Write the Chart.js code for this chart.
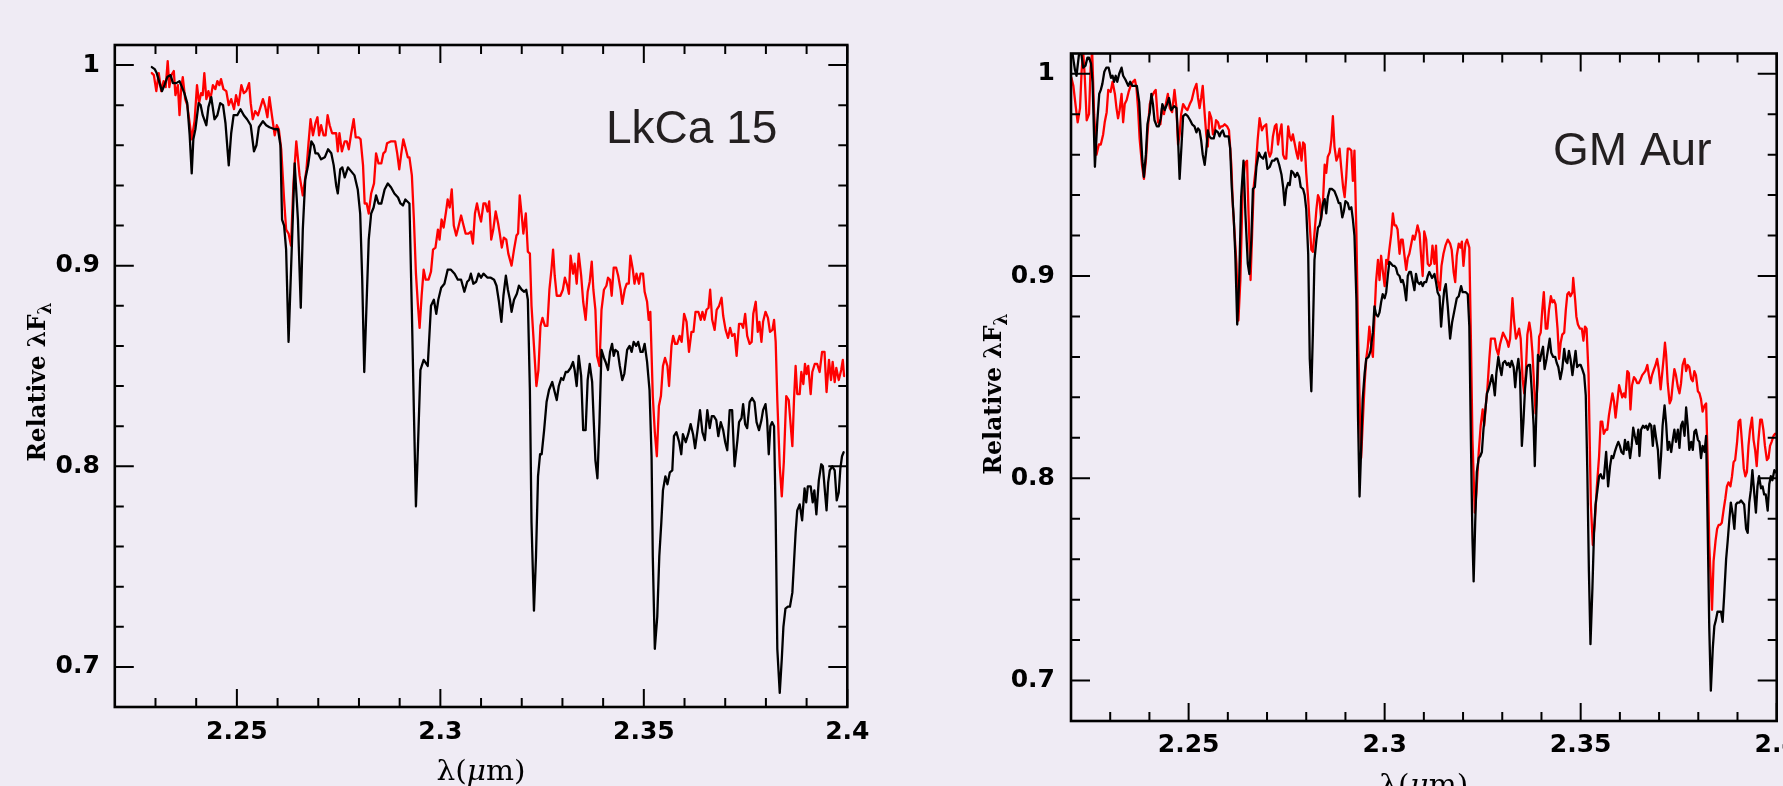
<!DOCTYPE html>
<html>
<head>
<meta charset="utf-8">
<script src="https://cdn.jsdelivr.net/npm/chart.js@4.4.1/dist/chart.umd.min.js"></script>
<style>
html, body { margin: 0; padding: 0; background: #EFEBF4; }
body { width: 1783px; height: 786px; position: relative; overflow: hidden; }
canvas { position: absolute; top: 0; }
#lkca { left: 0; }
#gmaur { left: 960px; }
</style>
</head>
<body>
<canvas id="lkca" width="960" height="786"></canvas>
<canvas id="gmaur" width="823" height="786"></canvas>
<script>
// ---------------- axes ----------------
const xRange = [2.22, 2.40];
const yRange = [0.68, 1.01];
const xTickValues = [2.25, 2.3, 2.35, 2.4];
const xTickLabels = ['2.25', '2.3', '2.35', '2.4'];
const yTickValues = [0.7, 0.8, 0.9, 1.0];
const yTickLabels = ['0.7', '0.8', '0.9', '1'];
const xMinorTicks = [2.23, 2.24, 2.26, 2.27, 2.28, 2.29, 2.31, 2.32, 2.33, 2.34, 2.36, 2.37, 2.38, 2.39];
const yMinorTicks = [0.72, 0.74, 0.76, 0.78, 0.82, 0.84, 0.86, 0.88, 0.92, 0.94, 0.96, 0.98];

// ---------------- LkCa 15 : black spectrum ----------------
const lkcaBlackWl = [
2.2291,2.2298,2.2303,2.2310,2.2316,2.2322,2.2329,2.2337,2.2343,2.2351,2.2359,2.2365,2.2371,2.2378,2.2384,2.2389,2.2393,2.2398,2.2406,2.2411,
2.2416,2.2425,2.2430,2.2437,2.2445,2.2452,2.2459,2.2466,2.2472,2.2480,2.2486,2.2492,2.2501,2.2509,2.2517,2.2525,2.2534,2.2542,2.2548,2.2554,
2.2564,2.2572,2.2580,2.2593,2.2601,2.2607,2.2611,2.2616,2.2621,2.2627,
2.2642,2.2650,2.2657,2.2662,2.2668,2.2675,2.2683,2.2689,2.2693,2.2699,2.2707,2.2716,2.2724,2.2732,2.2738,2.2744,2.2748,2.2754,2.2759,2.2765,
2.2773,2.2781,2.2789,2.2797,2.2803,2.2808,2.2813,2.2818,2.2824,2.2830,2.2836,2.2842,2.2848,2.2855,2.2863,2.2871,2.2879,2.2887,2.2896,2.2902,
2.2908,2.2914,2.2924,2.2930,2.2935,2.2940,2.2945,2.2951,2.2959,2.2969,2.2977,2.2984,2.2990,2.2995,2.3002,2.3010,2.3018,2.3026,2.3035,2.3043,
2.3051,2.3059,2.3066,2.3071,2.3075,2.3081,2.3088,2.3094,2.3100,2.3106,
2.3116,2.3124,2.3132,2.3138,2.3144,2.3150,2.3155,2.3161,2.3166,2.3171,2.3175,2.3181,2.3188,2.3193,2.3200,2.3206,2.3211,2.3215,2.3220,2.3224,
2.3230,2.3235,2.3240,2.3245,2.3249,2.3255,2.3261,2.3267,2.3275,2.3281,2.3286,2.3291,2.3297,2.3302,2.3308,2.3313,2.3320,2.3326,2.3330,2.3335,
2.3340,2.3346,2.3351,2.3357,2.3362,2.3367,2.3373,2.3377,2.3381,2.3386,2.3391,2.3396,2.3402,2.3406,2.3412,2.3417,2.3422,2.3426,2.3430,2.3436,
2.3441,2.3447,2.3452,2.3459,2.3465,2.3470,2.3475,2.3481,2.3486,2.3492,2.3497,2.3502,2.3508,2.3514,2.3519,2.3522,2.3527,2.3533,2.3538,2.3543,
2.3547,2.3553,
2.3558,2.3564,2.3570,2.3574,2.3580,2.3587,2.3592,2.3596,2.3603,2.3609,2.3615,2.3621,2.3626,2.3632,2.3638,2.3644,2.3650,2.3656,2.3662,2.3667,
2.3672,2.3678,2.3683,2.3689,2.3695,2.3700,2.3705,2.3711,2.3717,2.3723,2.3730,2.3734,2.3740,2.3744,2.3749,2.3754,2.3760,2.3766,2.3772,2.3777,
2.3783,2.3789,2.3793,2.3799,2.3803,2.3807,2.3811,2.3815,2.3820,2.3824,2.3828,2.3834,2.3839,2.3843,2.3848,2.3854,2.3859,2.3865,2.3869,2.3873,
2.3877,2.3883,2.3889,2.3895,2.3899,2.3903,2.3910,2.3915,2.3919,2.3924,2.3930,2.3936,2.3940,2.3944,2.3949,2.3953,2.3957,2.3963,2.3969,2.3974,
2.3979,2.3983,2.3987,2.3991];
const lkcaBlackFlux = [
0.999,0.998,0.996,0.991,0.987,0.990,0.994,0.995,0.991,0.991,0.992,0.989,0.986,0.981,0.965,0.946,0.963,0.968,0.981,0.980,
0.975,0.970,0.979,0.984,0.973,0.975,0.981,0.980,0.971,0.950,0.966,0.975,0.975,0.978,0.975,0.973,0.970,0.957,0.960,0.969,
0.972,0.970,0.969,0.968,0.968,0.960,0.923,0.920,0.908,0.862,
0.951,0.923,0.879,0.918,0.943,0.950,0.962,0.960,0.956,0.956,0.953,0.954,0.958,0.956,0.950,0.940,0.936,0.948,0.949,0.944,
0.949,0.947,0.945,0.938,0.926,0.893,0.847,0.877,0.913,0.926,0.929,0.935,0.931,0.931,0.938,0.941,0.939,0.936,0.934,0.931,
0.930,0.933,0.931,0.877,0.827,0.780,0.810,0.848,0.853,0.850,0.880,0.883,0.876,0.883,0.889,0.891,0.898,0.898,0.896,0.893,
0.893,0.887,0.892,0.893,0.896,0.891,0.892,0.896,0.894,0.896,
0.894,0.894,0.893,0.890,0.882,0.872,0.885,0.895,0.888,0.883,0.877,0.883,0.886,0.890,0.888,0.887,0.888,0.883,0.838,0.772,
0.728,0.755,0.795,0.806,0.806,0.818,0.832,0.838,0.842,0.837,0.833,0.840,0.844,0.843,0.847,0.847,0.849,0.852,0.848,0.840,
0.855,0.845,0.818,0.818,0.843,0.851,0.842,0.822,0.803,0.794,0.822,0.858,0.854,0.852,0.848,0.857,0.861,0.855,0.858,0.857,
0.850,0.843,0.846,0.858,0.860,0.857,0.862,0.860,0.862,0.857,0.857,0.861,0.852,0.838,0.805,0.755,0.709,0.725,0.755,0.772,
0.788,0.795,
0.791,0.797,0.798,0.815,0.817,0.812,0.806,0.816,0.812,0.816,0.821,0.816,0.809,0.818,0.828,0.817,0.813,0.828,0.819,0.825,
0.825,0.823,0.815,0.822,0.818,0.812,0.808,0.828,0.828,0.800,0.813,0.822,0.824,0.831,0.821,0.819,0.832,0.834,0.832,0.822,
0.818,0.823,0.828,0.831,0.823,0.806,0.820,0.822,0.820,0.775,0.709,0.687,0.704,0.720,0.729,0.730,0.730,0.737,0.752,0.767,
0.778,0.781,0.773,0.789,0.782,0.790,0.790,0.782,0.788,0.776,0.793,0.801,0.800,0.790,0.778,0.792,0.798,0.800,0.798,0.783,
0.787,0.799,0.805,0.807];

// ---------------- LkCa 15 : red spectrum ----------------
const lkcaRedWl = [
2.2291,2.2296,2.2302,2.2308,2.2314,2.2320,2.2325,2.2330,2.2334,2.2339,2.2345,2.2349,2.2355,2.2359,2.2363,2.2367,2.2373,2.2378,2.2384,2.2389,
2.2396,2.2402,2.2407,2.2412,2.2416,2.2420,2.2425,2.2430,2.2435,2.2441,2.2447,2.2452,2.2457,2.2461,2.2467,2.2474,2.2480,2.2486,2.2493,2.2498,
2.2504,2.2511,2.2517,2.2523,2.2530,2.2534,2.2539,2.2545,2.2552,2.2558,2.2564,2.2570,2.2575,2.2580,2.2586,2.2593,2.2598,2.2603,2.2609,2.2616,
2.2621,2.2627,2.2633,2.2639,2.2646,
2.2654,2.2662,2.2671,2.2676,2.2681,2.2687,2.2693,2.2698,2.2702,2.2707,2.2713,2.2718,2.2723,2.2728,2.2734,2.2744,2.2748,2.2752,2.2758,2.2765,
2.2770,2.2775,2.2781,2.2787,2.2792,2.2799,2.2804,2.2810,2.2814,2.2819,2.2824,2.2830,2.2837,2.2842,2.2848,2.2855,2.2860,2.2865,2.2869,2.2879,
2.2889,2.2894,2.2899,2.2904,2.2909,2.2914,2.2920,2.2924,2.2930,2.2935,2.2940,2.2945,2.2949,2.2954,2.2959,2.2964,2.2971,2.2977,2.2982,2.2988,
2.2994,2.2998,2.3003,2.3008,2.3014,2.3018,2.3023,2.3028,2.3033,2.3039,2.3044,2.3051,2.3057,2.3062,2.3069,2.3075,2.3080,2.3085,2.3090,2.3096,
2.3100,2.3106,
2.3111,2.3116,2.3120,2.3125,2.3130,2.3136,2.3142,2.3146,2.3151,2.3156,2.3162,2.3167,2.3175,2.3181,2.3187,2.3191,2.3195,2.3200,2.3204,2.3210,
2.3215,2.3220,2.3224,2.3230,2.3236,2.3241,2.3246,2.3251,2.3257,2.3263,2.3268,2.3273,2.3277,2.3281,2.3286,2.3295,2.3301,2.3306,2.3312,2.3316,
2.3320,2.3326,2.3330,2.3335,2.3340,2.3346,2.3351,2.3357,2.3362,2.3367,2.3372,2.3376,2.3381,2.3385,2.3391,2.3396,2.3402,2.3408,2.3412,2.3417,
2.3421,2.3426,2.3432,2.3437,2.3443,2.3447,2.3453,2.3458,2.3463,2.3467,2.3473,2.3477,2.3482,2.3488,2.3492,2.3498,2.3502,2.3508,2.3512,2.3516,
2.3522,2.3527,2.3532,2.3537,2.3542,2.3547,2.3552,
2.3558,2.3562,2.3568,2.3572,2.3577,2.3582,2.3588,2.3593,2.3599,2.3605,2.3611,2.3617,2.3622,2.3627,2.3634,2.3640,2.3644,2.3649,2.3654,2.3659,
2.3663,2.3668,2.3674,2.3679,2.3685,2.3691,2.3695,2.3701,2.3707,2.3712,2.3717,2.3723,2.3728,2.3734,2.3740,2.3744,2.3749,2.3754,2.3760,2.3765,
2.3769,2.3775,2.3780,2.3784,2.3789,2.3793,2.3799,2.3805,2.3810,2.3816,2.3820,2.3824,2.3828,2.3834,2.3839,2.3844,2.3850,2.3856,2.3865,2.3869,
2.3873,2.3877,2.3883,2.3887,2.3892,2.3896,2.3900,2.3904,2.3910,2.3914,2.3920,2.3926,2.3932,2.3938,2.3944,2.3949,2.3955,2.3960,2.3964,2.3969,
2.3973,2.3979,2.3985,2.3989,2.3992];
const lkcaRedFlux = [
0.996,0.995,0.987,0.996,0.987,0.992,0.989,1.002,0.989,0.995,0.997,0.985,0.990,0.975,0.988,0.994,0.983,0.980,0.971,0.963,
0.972,0.990,0.981,0.986,0.985,0.996,0.983,0.987,0.983,0.990,0.988,0.992,0.990,0.993,0.988,0.987,0.980,0.983,0.978,0.985,
0.980,0.990,0.986,0.987,0.991,0.981,0.973,0.977,0.975,0.979,0.983,0.979,0.974,0.984,0.975,0.965,0.970,0.968,0.958,0.933,
0.918,0.916,0.910,0.941,0.962,
0.945,0.935,0.948,0.961,0.973,0.965,0.971,0.974,0.965,0.970,0.965,0.965,0.975,0.970,0.966,0.966,0.957,0.966,0.957,0.962,
0.962,0.958,0.966,0.973,0.964,0.964,0.963,0.950,0.931,0.931,0.926,0.936,0.941,0.956,0.951,0.951,0.956,0.957,0.961,0.962,
0.962,0.956,0.948,0.956,0.963,0.959,0.954,0.954,0.945,0.923,0.896,0.880,0.869,0.885,0.898,0.893,0.893,0.897,0.908,0.909,
0.918,0.913,0.923,0.919,0.927,0.933,0.929,0.938,0.920,0.915,0.919,0.925,0.920,0.916,0.916,0.917,0.911,0.926,0.931,0.925,
0.922,0.931,
0.931,0.927,0.932,0.913,0.918,0.927,0.921,0.916,0.909,0.914,0.913,0.906,0.900,0.908,0.915,0.916,0.935,0.925,0.916,0.926,
0.907,0.906,0.880,0.860,0.840,0.848,0.870,0.874,0.870,0.870,0.888,0.898,0.908,0.895,0.885,0.885,0.888,0.894,0.890,0.886,
0.905,0.896,0.901,0.891,0.906,0.895,0.882,0.873,0.887,0.892,0.902,0.888,0.878,0.855,0.850,0.878,0.888,0.890,0.894,0.893,
0.885,0.899,0.899,0.895,0.888,0.881,0.888,0.891,0.891,0.905,0.898,0.891,0.896,0.891,0.896,0.896,0.887,0.882,0.873,0.877,
0.835,0.817,0.805,0.830,0.835,0.850,0.854,
0.850,0.840,0.860,0.865,0.861,0.861,0.865,0.862,0.876,0.872,0.857,0.867,0.867,0.877,0.877,0.873,0.877,0.873,0.878,0.879,
0.888,0.873,0.868,0.878,0.880,0.884,0.875,0.868,0.864,0.869,0.865,0.866,0.855,0.871,0.871,0.869,0.876,0.865,0.861,0.862,
0.876,0.882,0.867,0.872,0.862,0.872,0.877,0.874,0.867,0.868,0.873,0.862,0.833,0.800,0.785,0.802,0.835,0.833,0.810,0.833,
0.850,0.836,0.836,0.847,0.841,0.851,0.846,0.850,0.836,0.847,0.851,0.851,0.847,0.857,0.857,0.837,0.853,0.843,0.852,0.842,
0.849,0.843,0.848,0.853,0.845];

// ---------------- GM Aur : black spectrum ----------------
const gmBlackWl = [
2.2203,2.2210,2.2214,2.2220,2.2225,2.2231,2.2237,2.2242,2.2246,2.2251,2.2255,2.2261,2.2267,2.2272,2.2276,2.2280,2.2285,2.2290,2.2296,2.2302,
2.2306,2.2310,2.2314,2.2318,2.2323,2.2329,2.2333,2.2339,2.2346,2.2351,2.2356,2.2363,2.2368,2.2374,2.2378,2.2382,2.2386,2.2391,2.2395,2.2401,
2.2405,2.2409,2.2413,2.2419,2.2424,2.2429,2.2433,2.2439,2.2445,2.2450,2.2456,2.2463,2.2469,2.2473,2.2477,2.2482,2.2486,2.2492,2.2498,2.2504,
2.2509,2.2515,2.2520,2.2524,2.2528,2.2532,2.2536,2.2541,2.2545,2.2549,2.2553,2.2558,2.2564,2.2569,2.2575,2.2579,2.2583,2.2587,2.2592,2.2597,
2.2602,2.2606,2.2610,2.2615,2.2619,2.2624,2.2629,2.2634,2.2640,2.2645,2.2651,2.2655,
2.2660,2.2664,2.2669,2.2673,2.2679,2.2684,2.2690,2.2696,2.2701,2.2707,2.2713,2.2718,2.2722,2.2726,2.2731,2.2737,2.2741,2.2745,2.2749,2.2754,
2.2758,2.2762,2.2767,2.2772,2.2777,2.2782,2.2786,2.2792,2.2796,2.2800,2.2805,2.2809,2.2813,2.2817,2.2821,2.2826,2.2830,2.2834,2.2838,2.2843,
2.2847,2.2851,2.2855,2.2860,2.2866,2.2872,2.2878,2.2883,2.2887,2.2892,2.2896,2.2900,2.2906,2.2910,2.2915,2.2919,2.2923,2.2928,2.2932,2.2936,
2.2940,2.2944,2.2949,2.2953,2.2959,2.2964,2.2970,2.2974,2.2978,2.2983,2.2987,2.2991,2.2995,2.3000,2.3004,2.3008,2.3012,2.3017,2.3021,2.3025,
2.3029,2.3033,2.3038,2.3042,2.3046,2.3050,2.3055,2.3059,2.3063,2.3067,2.3072,2.3076,2.3080,2.3084,2.3089,2.3093,2.3097,2.3101,2.3106,2.3110,
2.3114,
2.3121,2.3127,2.3131,2.3135,2.3140,2.3144,2.3148,2.3152,2.3156,2.3161,2.3167,2.3172,2.3178,2.3184,2.3189,2.3195,2.3199,2.3203,2.3207,2.3212,
2.3216,2.3220,2.3224,2.3227,2.3231,2.3235,2.3240,2.3244,2.3248,2.3252,2.3257,2.3261,2.3265,2.3269,2.3274,2.3278,2.3281,2.3285,2.3290,2.3294,
2.3298,2.3302,2.3307,2.3312,2.3316,2.3320,2.3324,2.3329,2.3333,2.3336,2.3341,2.3345,2.3350,2.3354,2.3358,2.3363,2.3367,2.3371,2.3375,2.3380,
2.3383,2.3387,2.3391,2.3396,2.3400,2.3404,2.3408,2.3413,2.3417,2.3421,2.3425,2.3430,2.3435,2.3439,2.3443,2.3448,2.3453,2.3458,2.3462,2.3466,
2.3470,2.3474,2.3479,2.3483,2.3487,2.3491,2.3496,2.3500,2.3504,2.3509,2.3513,2.3517,2.3521,2.3525,2.3530,2.3534,2.3538,2.3542,2.3547,2.3551,
2.3555,
2.3559,2.3565,2.3570,2.3575,2.3579,2.3583,2.3587,2.3592,2.3596,2.3600,2.3604,2.3609,2.3613,2.3617,2.3621,2.3626,2.3630,2.3634,2.3638,2.3643,
2.3647,2.3650,2.3654,2.3659,2.3663,2.3667,2.3671,2.3676,2.3680,2.3684,2.3688,2.3693,2.3697,2.3701,2.3705,2.3709,2.3714,2.3718,2.3722,2.3726,
2.3731,2.3735,2.3739,2.3743,2.3748,2.3752,2.3756,2.3760,2.3765,2.3769,2.3773,2.3777,2.3782,2.3786,2.3790,2.3794,2.3799,2.3803,2.3807,2.3811,
2.3816,2.3820,2.3824,2.3828,2.3832,2.3837,2.3841,2.3845,2.3849,2.3854,2.3858,2.3862,2.3866,2.3871,2.3875,2.3879,2.3883,2.3888,2.3892,2.3896,
2.3900,2.3905,2.3909,2.3913,2.3917,2.3922,2.3926,2.3930,2.3934,2.3938,2.3943,2.3947,2.3951,2.3955,2.3960,2.3964,2.3968,2.3972,2.3977,2.3981,
2.3985,2.3989,2.3994,2.3998];
const gmBlackFlux = [
1.011,1.002,0.999,1.009,1.012,1.003,1.004,1.008,1.008,1.005,0.996,0.954,0.976,0.990,0.992,0.995,1.001,1.003,1.003,0.998,
0.999,0.996,0.999,0.996,1.000,1.003,0.999,0.997,0.994,0.996,0.994,0.994,0.994,0.986,0.971,0.957,0.949,0.960,0.975,0.981,
0.990,0.985,0.977,0.974,0.974,0.978,0.985,0.982,0.985,0.988,0.982,0.984,0.983,0.968,0.948,0.965,0.979,0.980,0.979,0.977,
0.975,0.974,0.971,0.973,0.972,0.967,0.960,0.955,0.962,0.972,0.969,0.968,0.968,0.972,0.971,0.969,0.971,0.972,0.969,0.969,
0.969,0.963,0.944,0.929,0.911,0.876,0.898,0.939,0.957,0.930,0.906,0.901,
0.918,0.943,0.944,0.954,0.961,0.959,0.958,0.961,0.953,0.954,0.957,0.957,0.958,0.958,0.955,0.950,0.944,0.935,0.943,0.946,
0.945,0.952,0.951,0.949,0.951,0.949,0.944,0.943,0.940,0.933,0.911,0.859,0.843,0.872,0.908,0.918,0.924,0.925,0.929,0.936,
0.938,0.931,0.939,0.943,0.943,0.942,0.939,0.936,0.936,0.929,0.932,0.937,0.936,0.933,0.934,0.928,0.920,0.888,0.831,0.791,
0.814,0.839,0.852,0.859,0.860,0.863,0.872,0.885,0.881,0.880,0.882,0.887,0.891,0.889,0.892,0.900,0.907,0.906,0.905,0.905,
0.904,0.901,0.900,0.897,0.898,0.895,0.888,0.900,0.902,0.902,0.897,0.893,0.901,0.897,0.896,0.897,0.895,0.897,0.897,0.900,
0.902,
0.899,0.901,0.897,0.892,0.890,0.875,0.885,0.893,0.896,0.885,0.869,0.877,0.883,0.889,0.890,0.895,0.892,0.892,0.892,0.891,
0.875,0.819,0.770,0.749,0.778,0.803,0.810,0.811,0.813,0.824,0.834,0.842,0.844,0.847,0.851,0.846,0.841,0.852,0.860,0.855,
0.851,0.857,0.858,0.856,0.857,0.855,0.858,0.855,0.845,0.852,0.859,0.852,0.816,0.828,0.844,0.855,0.856,0.856,0.844,0.826,
0.806,0.833,0.861,0.858,0.862,0.865,0.854,0.859,0.864,0.869,0.862,0.860,0.860,0.857,0.855,0.849,0.854,0.864,0.858,0.857,
0.863,0.859,0.851,0.857,0.863,0.855,0.856,0.856,0.854,0.851,0.841,0.803,0.754,0.718,0.746,0.773,0.787,0.793,0.801,0.802,
0.800,
0.800,0.813,0.796,0.806,0.811,0.810,0.813,0.816,0.818,0.816,0.813,0.812,0.819,0.814,0.818,0.810,0.816,0.825,0.821,0.817,
0.824,0.811,0.824,0.826,0.825,0.826,0.824,0.827,0.826,0.816,0.826,0.819,0.814,0.800,0.811,0.826,0.836,0.827,0.814,0.818,
0.813,0.819,0.824,0.818,0.824,0.815,0.826,0.828,0.821,0.835,0.826,0.814,0.818,0.814,0.823,0.824,0.819,0.818,0.810,0.816,
0.813,0.821,0.775,0.726,0.695,0.716,0.727,0.730,0.734,0.734,0.734,0.729,0.742,0.760,0.769,0.779,0.788,0.782,0.775,0.787,
0.788,0.788,0.789,0.788,0.787,0.775,0.773,0.788,0.794,0.804,0.792,0.783,0.796,0.801,0.795,0.796,0.792,0.792,0.784,0.797,
0.801,0.799,0.804,0.803];

// ---------------- GM Aur : red spectrum ----------------
const gmRedWl = [
2.2201,2.2206,2.2212,2.2217,2.2223,2.2227,2.2231,2.2235,2.2240,2.2246,2.2250,2.2254,2.2259,2.2265,2.2271,2.2276,2.2282,2.2286,2.2291,2.2295,
2.2301,2.2306,2.2312,2.2316,2.2320,2.2324,2.2329,2.2333,2.2337,2.2342,2.2347,2.2352,2.2358,2.2363,2.2367,2.2371,2.2375,2.2381,2.2386,2.2391,
2.2395,2.2401,2.2407,2.2412,2.2416,2.2422,2.2428,2.2432,2.2437,2.2443,2.2447,2.2452,2.2458,2.2464,2.2469,2.2473,2.2477,2.2481,2.2486,2.2492,
2.2497,2.2503,2.2508,2.2514,2.2520,2.2524,2.2528,2.2532,2.2536,2.2541,2.2545,2.2549,2.2553,2.2558,2.2562,2.2566,2.2570,2.2575,2.2579,2.2583,
2.2587,2.2592,2.2598,2.2603,2.2609,2.2613,2.2617,2.2622,2.2627,2.2632,2.2638,2.2644,2.2649,2.2653,2.2658,
2.2662,2.2666,2.2671,2.2676,2.2681,2.2687,2.2692,2.2698,2.2703,2.2707,2.2711,2.2715,2.2720,2.2724,2.2728,2.2732,2.2737,2.2741,2.2745,2.2749,
2.2754,2.2758,2.2762,2.2766,2.2771,2.2775,2.2779,2.2783,2.2788,2.2792,2.2796,2.2800,2.2805,2.2809,2.2813,2.2817,2.2821,2.2826,2.2830,2.2834,
2.2838,2.2843,2.2847,2.2851,2.2855,2.2860,2.2864,2.2868,2.2872,2.2877,2.2881,2.2885,2.2889,2.2894,2.2898,2.2902,2.2906,2.2910,2.2915,2.2919,
2.2923,2.2928,2.2932,2.2936,2.2940,2.2945,2.2949,2.2953,2.2957,2.2961,2.2966,2.2970,2.2974,2.2978,2.2983,2.2987,2.2991,2.2995,2.3000,2.3004,
2.3008,2.3012,2.3017,2.3021,2.3025,2.3029,2.3033,2.3038,2.3042,2.3046,2.3050,2.3055,2.3059,2.3063,2.3067,2.3072,2.3076,2.3080,2.3084,2.3089,
2.3093,2.3097,2.3101,2.3106,2.3110,2.3114,
2.3118,2.3122,2.3127,2.3131,2.3135,2.3141,2.3145,2.3150,2.3155,2.3161,2.3167,2.3171,2.3176,2.3180,2.3184,2.3189,2.3193,2.3197,2.3201,2.3206,
2.3210,2.3216,2.3220,2.3224,2.3230,2.3234,2.3240,2.3245,2.3250,2.3254,2.3258,2.3262,2.3267,2.3271,2.3275,2.3281,2.3285,2.3290,2.3294,2.3298,
2.3302,2.3307,2.3312,2.3316,2.3320,2.3326,2.3330,2.3335,2.3339,2.3343,2.3347,2.3352,2.3356,2.3360,2.3364,2.3369,2.3373,2.3377,2.3381,2.3385,
2.3390,2.3394,2.3398,2.3402,2.3406,2.3411,2.3415,2.3419,2.3424,2.3428,2.3432,2.3436,2.3441,2.3445,2.3449,2.3453,2.3458,2.3462,2.3466,2.3470,
2.3474,2.3479,2.3481,2.3486,2.3489,2.3493,2.3498,2.3503,2.3507,2.3511,2.3515,2.3520,2.3523,2.3526,2.3531,2.3536,2.3541,2.3547,2.3551,2.3555,
2.3559,2.3564,2.3568,2.3572,2.3576,2.3581,2.3585,2.3589,2.3593,2.3598,2.3602,2.3606,2.3610,2.3614,2.3619,2.3623,2.3627,2.3631,2.3636,2.3640,
2.3644,2.3648,2.3653,2.3657,2.3661,2.3665,2.3670,2.3674,2.3678,2.3682,2.3687,2.3691,2.3695,2.3699,2.3704,2.3708,2.3712,2.3715,2.3718,2.3722,
2.3727,2.3731,2.3735,2.3739,2.3743,2.3748,2.3752,2.3756,2.3760,2.3765,2.3769,2.3773,2.3777,2.3782,2.3786,2.3790,2.3794,2.3799,2.3803,2.3807,
2.3811,2.3816,2.3820,2.3824,2.3828,2.3835,2.3839,2.3844,2.3848,2.3852,2.3856,2.3860,2.3865,2.3869,2.3873,2.3877,2.3882,2.3886,2.3890,2.3894,
2.3899,2.3903,2.3907,2.3911,2.3916,2.3920,2.3924,2.3928,2.3932,2.3937,2.3941,2.3945,2.3949,2.3953,2.3958,2.3962,2.3966,2.3970,2.3975,2.3979,
2.3983,2.3987,2.3992,2.3996];
const gmRedFlux = [
0.998,0.994,0.984,0.976,0.983,1.001,1.011,0.999,0.977,0.980,1.003,1.011,0.980,0.960,0.965,0.965,0.970,0.976,0.981,0.992,
0.991,0.996,0.990,0.983,0.978,0.982,0.990,0.976,0.985,0.987,0.991,0.994,0.996,0.997,0.993,0.983,0.968,0.955,0.948,0.957,
0.970,0.985,0.989,0.991,0.992,0.976,0.975,0.983,0.980,0.986,0.990,0.983,0.981,0.992,0.983,0.965,0.970,0.980,0.985,0.983,
0.982,0.985,0.987,0.992,0.995,0.988,0.983,0.988,0.994,0.980,0.970,0.964,0.981,0.978,0.970,0.971,0.977,0.976,0.973,0.974,
0.974,0.975,0.974,0.972,0.955,0.934,0.922,0.906,0.878,0.898,0.944,0.956,0.957,0.930,0.898,
0.921,0.944,0.953,0.967,0.978,0.972,0.974,0.975,0.962,0.959,0.961,0.969,0.974,0.975,0.965,0.970,0.975,0.960,0.958,0.958,
0.974,0.969,0.967,0.970,0.965,0.961,0.958,0.966,0.957,0.966,0.965,0.951,0.938,0.925,0.913,0.912,0.921,0.933,0.940,0.938,
0.928,0.938,0.955,0.951,0.959,0.961,0.967,0.979,0.964,0.957,0.959,0.963,0.954,0.944,0.939,0.949,0.963,0.963,0.962,0.947,
0.962,0.921,0.872,0.839,0.810,0.831,0.847,0.859,0.865,0.875,0.865,0.860,0.879,0.897,0.908,0.898,0.910,0.903,0.895,0.908,
0.906,0.913,0.921,0.931,0.925,0.925,0.923,0.911,0.918,0.918,0.911,0.903,0.909,0.911,0.915,0.920,0.918,0.921,0.925,0.921,
0.910,0.900,0.922,0.918,0.906,0.905,
0.906,0.915,0.906,0.915,0.898,0.893,0.905,0.911,0.915,0.918,0.916,0.913,0.902,0.897,0.910,0.916,0.914,0.917,0.905,0.916,
0.918,0.914,0.869,0.819,0.783,0.793,0.813,0.826,0.834,0.826,0.836,0.844,0.859,0.869,0.869,0.869,0.864,0.861,0.866,0.869,
0.872,0.870,0.868,0.865,0.869,0.889,0.878,0.869,0.871,0.874,0.869,0.849,0.842,0.852,0.871,0.877,0.872,0.862,0.847,0.832,
0.847,0.870,0.872,0.883,0.892,0.874,0.874,0.883,0.890,0.887,0.888,0.886,0.874,0.859,0.867,0.871,0.872,0.883,0.891,0.892,
0.890,0.892,0.899,0.888,0.880,0.876,0.874,0.874,0.868,0.875,0.874,0.852,0.819,0.787,0.767,0.778,0.795,0.811,0.828,0.828,
0.822,0.824,0.824,0.831,0.836,0.842,0.838,0.830,0.837,0.846,0.843,0.840,0.842,0.840,0.853,0.852,0.834,0.846,0.850,0.849,
0.847,0.847,0.849,0.851,0.852,0.853,0.856,0.851,0.847,0.851,0.854,0.856,0.859,0.854,0.844,0.852,0.860,0.867,0.861,0.847,
0.837,0.839,0.847,0.854,0.851,0.845,0.842,0.847,0.856,0.859,0.853,0.856,0.855,0.849,0.848,0.853,0.851,0.843,0.842,0.839,
0.833,0.836,0.837,0.808,0.767,0.735,0.759,0.769,0.775,0.777,0.777,0.778,0.785,0.790,0.796,0.798,0.796,0.801,0.808,0.809,
0.818,0.828,0.829,0.819,0.805,0.801,0.803,0.816,0.824,0.830,0.819,0.814,0.806,0.818,0.829,0.829,0.824,0.816,0.809,0.810,
0.816,0.818,0.821,0.822];

// ---------------- helpers ----------------
function toPoints(wl, flux) {
  const n = Math.min(wl.length, flux.length);
  const pts = [];
  for (let i = 0; i < n; i++) pts.push({ x: wl[i], y: flux[i] });
  return pts;
}
function labelFor(values, labels, v) {
  const i = values.findIndex(t => Math.abs(t - v) < 1e-6);
  return i >= 0 ? labels[i] : '';
}

const framePlugin = {
  id: 'spectrumFrame',
  afterDatasetsDraw(chart, args, o) {
    const ctx = chart.ctx;
    const ca = chart.chartArea;
    const xs = chart.scales.x, ys = chart.scales.y;
    ctx.save();
    ctx.strokeStyle = '#000';
    ctx.lineCap = 'butt';
    // inward ticks on all four sides
    ctx.lineWidth = 2;
    ctx.beginPath();
    const xt = (vals, len) => vals.forEach(v => {
      const p = xs.getPixelForValue(v);
      ctx.moveTo(p, ca.bottom); ctx.lineTo(p, ca.bottom - len);
      ctx.moveTo(p, ca.top); ctx.lineTo(p, ca.top + len);
    });
    const yt = (vals, len) => vals.forEach(v => {
      const p = ys.getPixelForValue(v);
      ctx.moveTo(ca.left, p); ctx.lineTo(ca.left + len, p);
      ctx.moveTo(ca.right, p); ctx.lineTo(ca.right - len, p);
    });
    xt(xMinorTicks, 9); xt(xTickValues, 18);
    yt(yMinorTicks, 9); yt(yTickValues, 19);
    ctx.stroke();
    // frame
    ctx.lineWidth = 2.6;
    ctx.strokeRect(ca.left, ca.top, ca.right - ca.left, ca.bottom - ca.top);

    // panel label
    ctx.fillStyle = '#231F20';
    ctx.font = '46px "Liberation Sans", Arial, sans-serif';
    ctx.textAlign = 'left';
    ctx.textBaseline = 'alphabetic';
    ctx.fillText(o.name, o.nameX, o.nameY);

    // x axis title: λ(μm)
    ctx.fillStyle = '#000';
    const fN = '28px "DejaVu Serif", serif', fI = 'italic 28px "DejaVu Serif", serif';
    ctx.font = fN; const w1 = ctx.measureText('λ(').width; const w3 = ctx.measureText('m)').width;
    ctx.font = fI; const w2 = ctx.measureText('μ').width;
    const cx = (ca.left + ca.right) / 2;
    const total = w1 + w2 + w3;
    ctx.save();
    ctx.translate(cx, o.xTitleY);
    ctx.scale(o.xTitleLen / total, 1);
    const x0 = -total / 2;
    ctx.font = fN; ctx.fillText('λ(', x0, 0);
    ctx.font = fI; ctx.fillText('μ', x0 + w1, 0);
    ctx.font = fN; ctx.fillText('m)', x0 + w1 + w2, 0);
    ctx.restore();

    // y axis title: Relative λFλ (subscript λ)
    ctx.save();
    ctx.translate(o.yTitleX, o.yTitleY);
    ctx.rotate(-Math.PI / 2);
    const mainF = 'bold 22px "DejaVu Serif", serif', subF = 'bold 16px "DejaVu Serif", serif';
    ctx.font = mainF; const m1 = ctx.measureText('Relative λF').width;
    ctx.font = subF; const m2 = ctx.measureText('λ').width;
    ctx.scale(o.yTitleLen / (m1 + m2), 1.12);
    const s0 = -(m1 + m2) / 2;
    ctx.font = mainF; ctx.fillText('Relative λF', s0, 0);
    ctx.font = subF; ctx.fillText('λ', s0 + m1, 5);
    ctx.restore();
    ctx.restore();
  }
};

function buildChart(id, p) {
  const tickFont = { family: '"DejaVu Sans", sans-serif', size: 25, weight: 'bold' };
  return new Chart(document.getElementById(id), {
    type: 'line',
    data: {
      datasets: [
        { label: p.name + ' (black)', data: toPoints(p.blackWl, p.blackFlux), borderColor: '#000000' },
        { label: p.name + ' (red)', data: toPoints(p.redWl, p.redFlux), borderColor: '#FF0000' }
      ]
    },
    options: {
      responsive: false,
      animation: false,
      devicePixelRatio: 1,
      layout: { padding: p.padding },
      elements: {
        point: { radius: 0, hoverRadius: 0 },
        line: { tension: 0, borderWidth: 2.3, borderJoinStyle: 'round', borderCapStyle: 'round', fill: false }
      },
      plugins: {
        legend: { display: false },
        tooltip: { enabled: false },
        spectrumFrame: p.frame
      },
      scales: {
        x: {
          type: 'linear', min: xRange[0], max: xRange[1],
          grid: { display: false, drawTicks: false, tickLength: 0 },
          border: { display: false },
          afterBuildTicks: s => { s.ticks = xTickValues.map(v => ({ value: v })); },
          afterFit: s => { s.height = p.xAxisHeight; s.paddingLeft = 0; s.paddingRight = 0; },
          ticks: {
            callback: v => labelFor(xTickValues, xTickLabels, v),
            font: tickFont, color: '#000', padding: p.xTickPad,
            maxRotation: 0, minRotation: 0, autoSkip: false
          }
        },
        y: {
          type: 'linear', min: yRange[0], max: yRange[1],
          grid: { display: false, drawTicks: false, tickLength: 0 },
          border: { display: false },
          afterBuildTicks: s => { s.ticks = yTickValues.map(v => ({ value: v })); },
          afterFit: s => { s.width = p.yAxisWidth; s.paddingTop = 0; s.paddingBottom = 0; },
          ticks: {
            callback: v => labelFor(yTickValues, yTickLabels, v),
            font: tickFont, color: '#000', padding: p.yTickPad, autoSkip: false
          }
        }
      }
    },
    plugins: [framePlugin]
  });
}

buildChart('lkca', {
  name: 'LkCa 15',
  blackWl: lkcaBlackWl, blackFlux: lkcaBlackFlux, redWl: lkcaRedWl, redFlux: lkcaRedFlux,
  padding: { left: 0, top: 45, right: 112.7, bottom: 0 },
  yAxisWidth: 114.8, xAxisHeight: 79, xTickPad: 10, yTickPad: 15,
  frame: { name: 'LkCa 15', nameX: 606, nameY: 143, xTitleY: 780, xTitleLen: 89, yTitleX: 45, yTitleY: 382, yTitleLen: 159 }
});
buildChart('gmaur', {
  name: 'GM Aur',
  blackWl: gmBlackWl, blackFlux: gmBlackFlux, redWl: gmRedWl, redFlux: gmRedFlux,
  padding: { left: 0, top: 53.5, right: 6.3, bottom: 0 },
  yAxisWidth: 111, xAxisHeight: 65, xTickPad: 9, yTickPad: 16,
  frame: { name: 'GM Aur', nameX: 593, nameY: 165, xTitleY: 794, xTitleLen: 89, yTitleX: 41, yTitleY: 394, yTitleLen: 161 }
});
</script>
</body>
</html>
